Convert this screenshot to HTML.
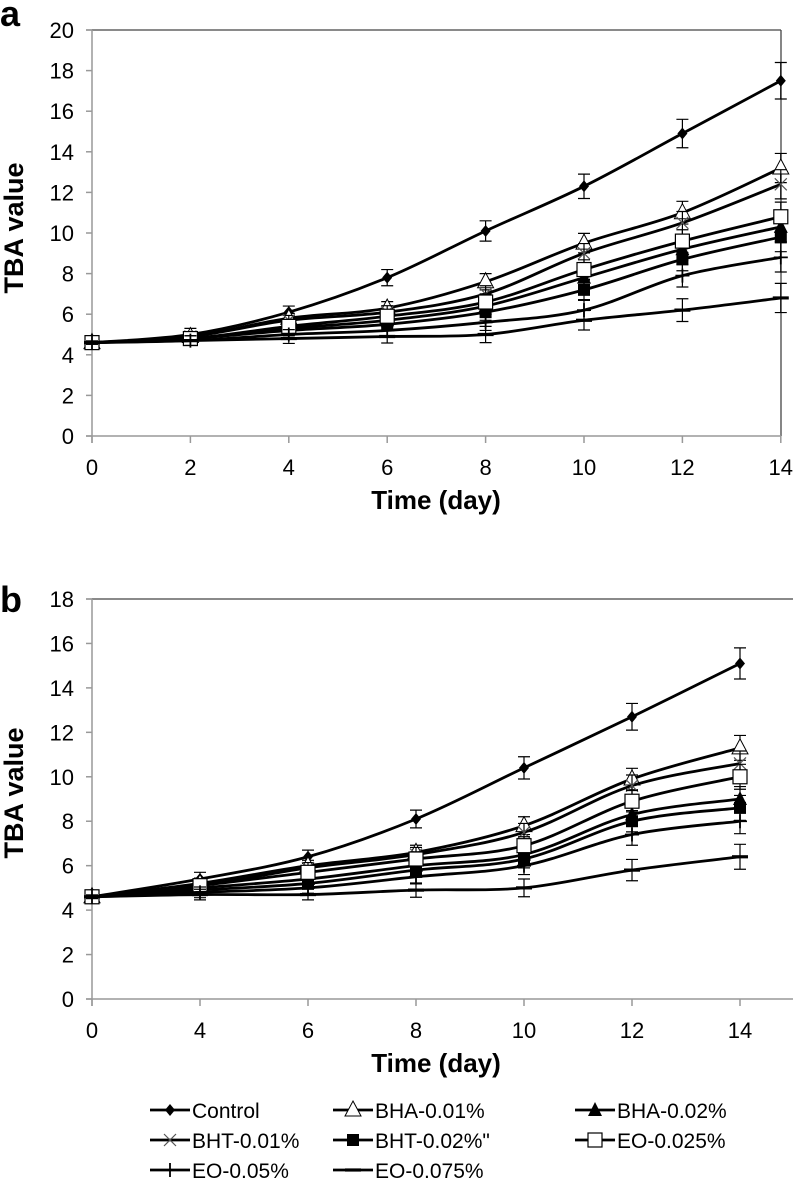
<!DOCTYPE html>
<html><head><meta charset="utf-8">
<style>
html,body{margin:0;padding:0;background:#fff;}
svg{display:block;font-family:"Liberation Sans","DejaVu Sans",sans-serif;}
</style></head>
<body>
<svg id="fig" width="793" height="1196" viewBox="0 0 793 1196" xmlns="http://www.w3.org/2000/svg">
<text x="0" y="26" font-size="36" font-weight="bold">a</text>
<text x="0" y="612" font-size="36" font-weight="bold">b</text>
<g id="chartA"></g>
<g id="chartB"></g>
<g id="legend"></g>
</svg>
<script>
const seriesNames = ["Control","BHA-0.01%","BHA-0.02%","BHT-0.01%","BHT-0.02%\"","EO-0.025%","EO-0.05%","EO-0.075%"];
const markers = ["diamond","triOpen","triFill","cross","sqFill","sqOpen","plus","dash"];

const catsA = ["0","2","4","6","8","10","12","14"];
const yTicksA = [0,2,4,6,8,10,12,14,16,18,20];
const controlA = [4.6,5.0,6.1,7.8,10.1,12.3,14.9,17.5];
const bha1A = [4.6,4.9,5.8,6.3,7.6,9.5,11.0,13.2];
const bha2A = [4.6,4.8,5.3,5.7,6.4,7.8,9.2,10.3];
const bht1A = [4.6,4.9,5.7,6.1,7.0,9.0,10.5,12.4];
const bht2A = [4.6,4.8,5.2,5.5,6.1,7.2,8.7,9.8];
const eo25A = [4.6,4.8,5.4,5.9,6.6,8.2,9.6,10.8];
const eo5A = [4.6,4.7,5.0,5.2,5.6,6.2,7.9,8.8];
const eo75A = [4.6,4.7,4.8,4.9,5.0,5.7,6.2,6.8];
const errA = [0.1,0.3,0.3,0.4,0.5,0.6,0.7,0.9];

const catsB = ["0","4","6","8","10","12","14"];
const yTicksB = [0,2,4,6,8,10,12,14,16,18];
const controlB = [4.6,5.4,6.4,8.1,10.4,12.7,15.1];
const bha1B = [4.6,5.2,6.0,6.6,7.8,9.9,11.3];
const bha2B = [4.6,5.0,5.4,6.0,6.5,8.3,9.0];
const bht1B = [4.6,5.1,5.9,6.5,7.5,9.6,10.6];
const bht2B = [4.6,4.9,5.2,5.8,6.3,8.0,8.6];
const eo25B = [4.6,5.1,5.7,6.3,6.9,8.9,10.0];
const eo5B = [4.6,4.8,5.0,5.5,6.0,7.4,8.0];
const eo75B = [4.6,4.7,4.7,4.9,5.0,5.8,6.4];
const errB = [0.1,0.3,0.3,0.4,0.5,0.6,0.7];

const NS="http://www.w3.org/2000/svg";
function mk(tag,attrs,parent){const e=document.createElementNS(NS,tag);for(const k in attrs)e.setAttribute(k,attrs[k]);parent.appendChild(e);return e;}

function marker(g,type,x,y){
  let e;
  const s=7;
  if(type==="diamond"){e=mk("path",{d:`M${x},${y-6}L${x+5},${y}L${x},${y+6}L${x-5},${y}Z`,fill:"#000"},g);}
  else if(type==="triOpen"){e=mk("path",{d:`M${x},${y-9}L${x+8},${y+6}L${x-8},${y+6}Z`,fill:"#fff",stroke:"#000","stroke-width":1},g);}
  else if(type==="triFill"){e=mk("path",{d:`M${x},${y-8}L${x+7},${y+6}L${x-7},${y+6}Z`,fill:"#000"},g);}
  else if(type==="cross"){e=mk("path",{d:`M${x-6},${y-6}L${x+6},${y+6}M${x-6},${y+6}L${x+6},${y-6}`,stroke:"#555","stroke-width":1.2},g);}
  else if(type==="sqFill"){e=mk("rect",{x:x-6,y:y-6,width:12,height:12,fill:"#000"},g);}
  else if(type==="sqOpen"){e=mk("rect",{x:x-s,y:y-s,width:2*s,height:2*s,fill:"#fff",stroke:"#000","stroke-width":1.2},g);}
  else if(type==="plus"){e=mk("path",{d:`M${x-7},${y}L${x+7},${y}M${x},${y-7}L${x},${y+7}`,stroke:"#000","stroke-width":1.8},g);}
  else {e=mk("path",{d:`M${x-8},${y}L${x+8},${y}`,stroke:"#000","stroke-width":3.2},g);}
  return e;
}

function smoothPath(pts){
  let d=`M${pts[0][0]},${pts[0][1]}`;
  for(let i=0;i<pts.length-1;i++){
    const p0=pts[Math.max(0,i-1)],p1=pts[i],p2=pts[i+1],p3=pts[Math.min(pts.length-1,i+2)];
    const t=1/6;
    d+=`C${p1[0]+(p2[0]-p0[0])*t},${p1[1]+(p2[1]-p0[1])*t} ${p2[0]-(p3[0]-p1[0])*t},${p2[1]-(p3[1]-p1[1])*t} ${p2[0]},${p2[1]}`;
  }
  return d;
}

function drawChart(gid,cfg){
  const g=document.getElementById(gid);
  const xs=i=>cfg.x0+i*cfg.step;
  const ys=v=>cfg.y0-(v/cfg.ymax)*(cfg.y0-cfg.ytop);
  const top=mk("line",{x1:cfg.x0-6,y1:cfg.ytop,x2:cfg.xRightTop,y2:cfg.ytop,stroke:"#444","stroke-width":1.3},g);
  
  
  if(cfg.rightBorder){
    const rb=mk("line",{x1:cfg.rightBorder,y1:cfg.ytop,x2:cfg.rightBorder,y2:cfg.y0,stroke:"#444","stroke-width":1.3},g);
    
    
  }
  const ya=mk("line",{x1:cfg.x0,y1:cfg.ytop,x2:cfg.x0,y2:cfg.y0+7,stroke:"#999","stroke-width":1.5},g);
  
  
  const xa=mk("line",{x1:cfg.x0-6,y1:cfg.y0,x2:cfg.xAxisEnd,y2:cfg.y0,stroke:"#999","stroke-width":1.5},g);
  
  
  cfg.yTicks.forEach(v=>{
    const y=ys(v);
    mk("line",{x1:cfg.x0-6,y1:y,x2:cfg.x0,y2:y,stroke:"#999","stroke-width":1.5},g);
    const t=mk("text",{x:cfg.x0-18,y:y+8,"font-size":22,"text-anchor":"end",fill:"#000"},g);
    t.textContent=v;
    
    
  });
  cfg.cats.forEach((c,i)=>{
    const x=xs(i);
    mk("line",{x1:x,y1:cfg.y0,x2:x,y2:cfg.y0+7,stroke:"#999","stroke-width":1.5},g);
    const t=mk("text",{x:x,y:cfg.y0+39,"font-size":22,"text-anchor":"middle",fill:"#000"},g);
    t.textContent=c;
    
    
  });
  const xt=mk("text",{x:cfg.xTitleX,y:cfg.y0+73,"font-size":26,"font-weight":"bold","text-anchor":"middle",fill:"#000"},g);
  xt.textContent="Time (day)";
  
  
  const yt=mk("text",{x:0,y:0,"font-size":27,"font-weight":"bold","text-anchor":"middle",fill:"#000",transform:`translate(23,${cfg.yTitleY}) rotate(-90)`},g);
  yt.textContent="TBA value";
  
  
  cfg.series.forEach((vals,si)=>{
    const sg=mk("g",{},g);
    
    
    const pts=vals.map((v,i)=>[xs(i),ys(v)]);
    mk("path",{d:smoothPath(pts),fill:"none",stroke:"#000","stroke-width":2.8},sg);
    vals.forEach((v,i)=>{
      const e=cfg.err[i]*(si===0?1:0.8);
      const x=xs(i),y1=ys(v+e),y2=ys(v-e);
      mk("path",{d:`M${x},${y1}L${x},${y2}M${x-6},${y1}L${x+6},${y1}M${x-6},${y2}L${x+6},${y2}`,stroke:"#000","stroke-width":1.2,fill:"none"},sg);
    });
    vals.forEach((v,i)=>{
      const m=marker(sg,markers[si],xs(i),ys(v));
      
      
    });
  });
}

drawChart("chartA",{x0:92,step:98.4,y0:436,ytop:30,ymax:20,yTicks:yTicksA,cats:catsA,
  series:[controlA,bha1A,bha2A,bht1A,bht2A,eo25A,eo5A,eo75A],err:errA,
  xRightTop:781,rightBorder:781,xAxisEnd:781,xTitleX:436,yTitleY:228});
drawChart("chartB",{x0:92,step:108,y0:999,ytop:599,ymax:18,yTicks:yTicksB,cats:catsB,
  series:[controlB,bha1B,bha2B,bht1B,bht2B,eo25B,eo5B,eo75B],err:errB,
  xRightTop:793,rightBorder:null,xAxisEnd:793,xTitleX:436,yTitleY:793});

const lg=document.getElementById("legend");
const legCols=[150,333,575];
const legRows=[1110,1140,1170];
seriesNames.forEach((n,i)=>{
  const col=legCols[i%3],row=legRows[Math.floor(i/3)];
  const eg=mk("g",{},lg);
  
  
  mk("line",{x1:col,y1:row,x2:col+40,y2:row,stroke:"#000","stroke-width":2.8},eg);
  marker(eg,markers[i],col+20,row);
  const t=mk("text",{x:col+42,y:row+8,"font-size":21,fill:"#000"},eg);
  t.textContent=n;
});
</script>
</body></html>
